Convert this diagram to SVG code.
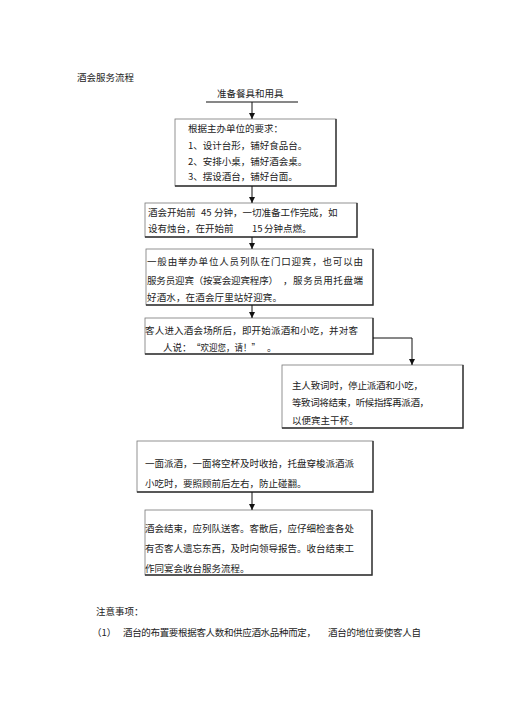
<svg xmlns="http://www.w3.org/2000/svg" width="505" height="714" viewBox="0 0 505 714">
<style>
text{font-family:"Noto Sans CJK SC","Noto Sans",sans-serif;font-size:9.5px;fill:#222}
.box{fill:none;stroke:#777;stroke-width:0.8}
.edge{stroke:#333;stroke-width:1.4;fill:none}
.conn{stroke:#111;stroke-width:1;fill:none}
</style>
<defs>
<marker id="ah" markerUnits="userSpaceOnUse" markerWidth="6" markerHeight="6" refX="6" refY="3" orient="auto">
<path d="M0,0 L6,3 L0,6 z" fill="#111"/>
</marker>
</defs>
<rect width="505" height="714" fill="#fff"/>
<text x="77" y="81">酒会服务流程</text>
<g id="prep">
<text x="217" y="97">准备餐具和用具</text>
<line x1="206" y1="102" x2="298" y2="102" stroke="#111" stroke-width="1.2"/>
</g>
<g id="box1">
<rect class="box" x="175" y="119" width="161" height="67"/>
<path class="edge" d="M336,119 V186 H175"/>
<text x="188" y="132">根据主办单位的要求：</text>
<text x="188" y="148.5">1、设计台形，铺好食品台。</text>
<text x="188" y="165">2、安排小桌，铺好酒会桌。</text>
<text x="188" y="180">3、摆设酒台，铺好台面。</text>
</g>
<g id="box2">
<rect class="box" x="145" y="203" width="212" height="34"/>
<path class="edge" d="M357,203 V237 H145"/>
<text y="216"><tspan x="148">酒会开始前</tspan><tspan x="201">45</tspan><tspan x="214">分钟，一切准备工作完成，如</tspan></text>
<text y="232"><tspan x="148">设有烛台，在开始前</tspan><tspan x="252">15</tspan><tspan x="264">分钟点燃。</tspan></text>
</g>
<g id="box3">
<rect class="box" x="146" y="249" width="227" height="56"/>
<path class="edge" d="M373,249 V305 H146"/>
<text x="147" y="265" textLength="216" lengthAdjust="spacing">一般由举办单位人员列队在门口迎宾，也可以由</text>
<text y="284"><tspan x="147" textLength="131" lengthAdjust="spacing">服务员迎宾（按宴会迎宾程序）</tspan><tspan x="283" textLength="80" lengthAdjust="spacing">，服务员用托盘端</tspan></text>
<text x="147" y="301" textLength="135" lengthAdjust="spacing">好酒水，在酒会厅里站好迎宾。</text>
</g>
<g id="box4">
<rect class="box" x="145" y="318" width="228" height="36"/>
<path class="edge" d="M373,318 V354 H145"/>
<text x="145" y="334" textLength="213" lengthAdjust="spacing">客人进入酒会场所后，即开始派酒和小吃，并对客</text>
<text y="350.5"><tspan x="163">人说：</tspan><tspan x="192" textLength="68" lengthAdjust="spacingAndGlyphs">“欢迎您，请！”</tspan><tspan x="267">。</tspan></text>
</g>
<g id="box5">
<rect class="box" x="282" y="365" width="181" height="63"/>
<path class="edge" d="M463,365 V428 H282"/>
<text x="292" y="388.5" textLength="131" lengthAdjust="spacing">主人致词时，停止派酒和小吃，</text>
<text x="292" y="406" textLength="137" lengthAdjust="spacing">等致词将结束，听候指挥再派酒，</text>
<text x="292" y="423.5">以便宾主干杯。</text>
</g>
<g id="box6">
<rect class="box" x="137" y="441" width="236" height="51"/>
<path class="edge" d="M373,441 V492 H137"/>
<text x="145" y="467">一面派酒，一面将空杯及时收拾，托盘穿梭派酒派</text>
<text x="145" y="487">小吃时，要照顾前后左右，防止碰翻。</text>
</g>
<g id="box7">
<rect class="box" x="145" y="510" width="227" height="65"/>
<path class="edge" d="M372,510 V575 H145"/>
<text x="145" y="532">酒会结束，应列队送客。客散后，应仔细检查各处</text>
<text x="145" y="552">有否客人遗忘东西，及时向领导报告。收台结束工</text>
<text x="145" y="572">作同宴会收台服务流程。</text>
</g>
<g id="connectors">
<line class="conn" x1="252" y1="102" x2="252" y2="119" marker-end="url(#ah)"/>
<line class="conn" x1="252" y1="186" x2="252" y2="203" marker-end="url(#ah)"/>
<line class="conn" x1="252" y1="237" x2="252" y2="249" marker-end="url(#ah)"/>
<line class="conn" x1="252" y1="305" x2="252" y2="318" marker-end="url(#ah)"/>
<path class="conn" d="M373,338 H412 V365" marker-end="url(#ah)"/>
<line class="conn" x1="252" y1="492" x2="252" y2="510" marker-end="url(#ah)"/>
</g>
<g id="notes">
<text x="96" y="615">注意事项：</text>
<text y="636"><tspan x="92">（1）</tspan><tspan x="123" textLength="193" lengthAdjust="spacing">酒台的布置要根据客人数和供应酒水品种而定，</tspan><tspan x="328" textLength="93" lengthAdjust="spacing">酒台的地位要使客人自</tspan></text>
</g>
</svg>
